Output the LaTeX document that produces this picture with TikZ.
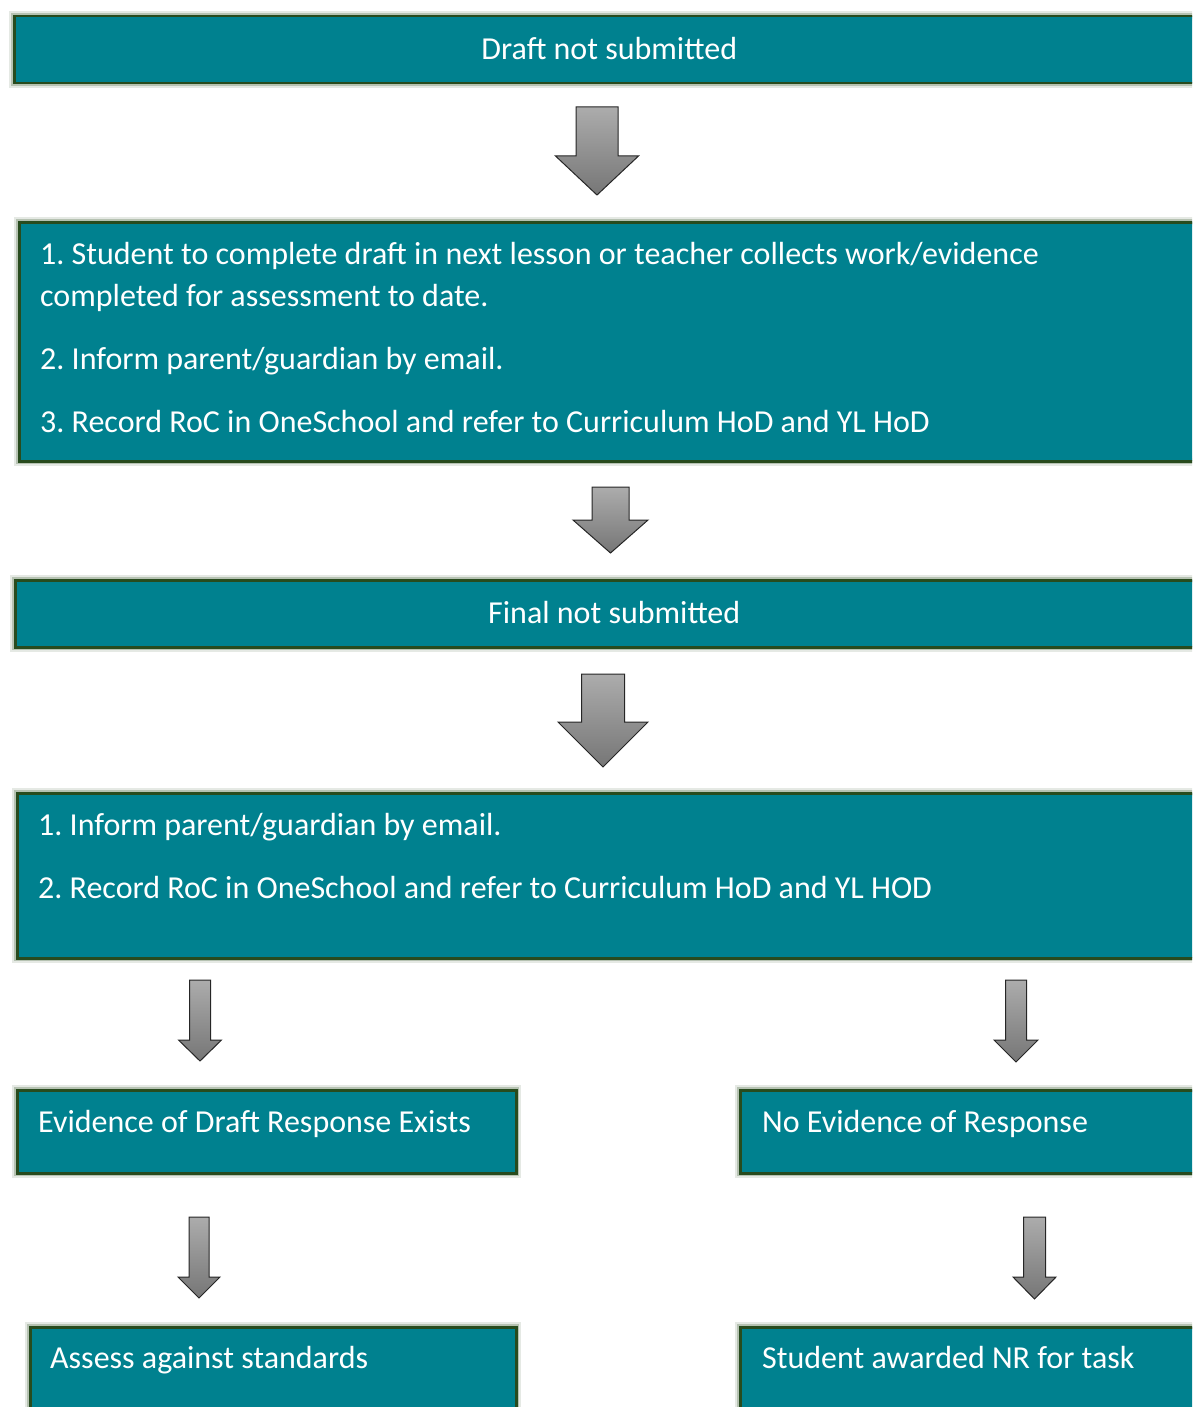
\documentclass[tikz,border=0pt]{standalone}
\usepackage{fontspec}
\setmainfont{Carlito}
\usetikzlibrary{positioning}
\frenchspacing

\definecolor{boxfill}{RGB}{0,129,143}
\definecolor{boxedge}{RGB}{40,75,30}
\definecolor{arrowtop}{RGB}{172,172,172}
\definecolor{arrowbot}{RGB}{118,118,118}

\tikzset{
  stepbox/.style={rectangle, anchor=north west, inner sep=0pt, fill=boxfill, draw=boxedge, line width=2.5pt,
    text=white, font=\fontsize{32}{42}\selectfont,
    preaction={draw=boxedge, draw opacity=.12, line width=10pt},
    preaction={draw=boxedge, draw opacity=.25, line width=6pt}},
  boxtext/.style={text=white, font=\fontsize{32}{42}\selectfont, inner sep=0pt, anchor=base west},
  blockarrow/.style={draw=black!85, line width=1pt, line join=miter, top color=arrowtop, bottom color=arrowbot}
}

\begin{document}
\begin{tikzpicture}[x=1pt,y=-1pt]
    \useasboundingbox (0,0) rectangle (1192,1407);
    \clip (0,0) rectangle (1192,1407);

    % boxes
    \node[stepbox, minimum width=1190pt, minimum height=67pt] (draft) at (13,15) {\raisebox{2pt}{Draft not submitted}};
    \node[stepbox, minimum width=1200pt, minimum height=239pt] (steps1) at (18,221) {};
    \node[stepbox, minimum width=1198pt, minimum height=67pt] (final) at (14,579) {\raisebox{2pt}{Final not submitted}};
    \node[stepbox, minimum width=1200pt, minimum height=165pt] (steps2) at (16,792) {};
    \node[stepbox, minimum width=499pt, minimum height=83pt] (draftev) at (16,1089) {};
    \node[stepbox, minimum width=470pt, minimum height=83pt] (noev) at (739,1089) {};
    \node[stepbox, minimum width=486pt, minimum height=110pt] (assess) at (29,1326) {};
    \node[stepbox, minimum width=470pt, minimum height=110pt] (awarded) at (739,1326) {};

    % texts
    \node[boxtext] (s1a) at (40,264) {1. Student to complete draft in next lesson or teacher collects work/evidence};
    \node[boxtext] (s1b) at (40,306) {completed for assessment to date.};
    \node[boxtext] (s2) at (40,369) {2. Inform parent/guardian by email.};
    \node[boxtext] (s3) at (40,432) {3. Record RoC in OneSchool and refer to Curriculum HoD and YL HoD};
    \node[boxtext] (f1) at (38,835) {1. Inform parent/guardian by email.};
    \node[boxtext] (f2) at (38,898) {2. Record RoC in OneSchool and refer to Curriculum HoD and YL HOD};
    \node[boxtext] (ev) at (38,1132) {Evidence of Draft Response Exists};
    \node[boxtext] (noevt) at (762,1132) {No Evidence of Response};
    \node[boxtext] (ast) at (50,1368) {Assess against standards};
    \node[boxtext] (nrt) at (762,1368) {Student awarded NR for task};

    % arrows
    \foreach \cx/\ya/\yb/\yc/\sw/\hw in {597/107/156/195/21/41.5, 610.5/487/520/553/18.5/37.5,
        603/674/722/767/21.5/45, 200/980/1040/1061/10.5/21.5, 1016/980/1040/1062/10.5/22,
        199/1217/1277/1298/10/21, 1034.5/1217/1277/1299/11/21.5}
      \draw[blockarrow] (\cx-\sw,\ya) -- (\cx+\sw,\ya) -- (\cx+\sw,\yb) -- (\cx+\hw,\yb)
        -- (\cx,\yc) -- (\cx-\hw,\yb) -- (\cx-\sw,\yb) -- cycle;
\end{tikzpicture}
\end{document}
